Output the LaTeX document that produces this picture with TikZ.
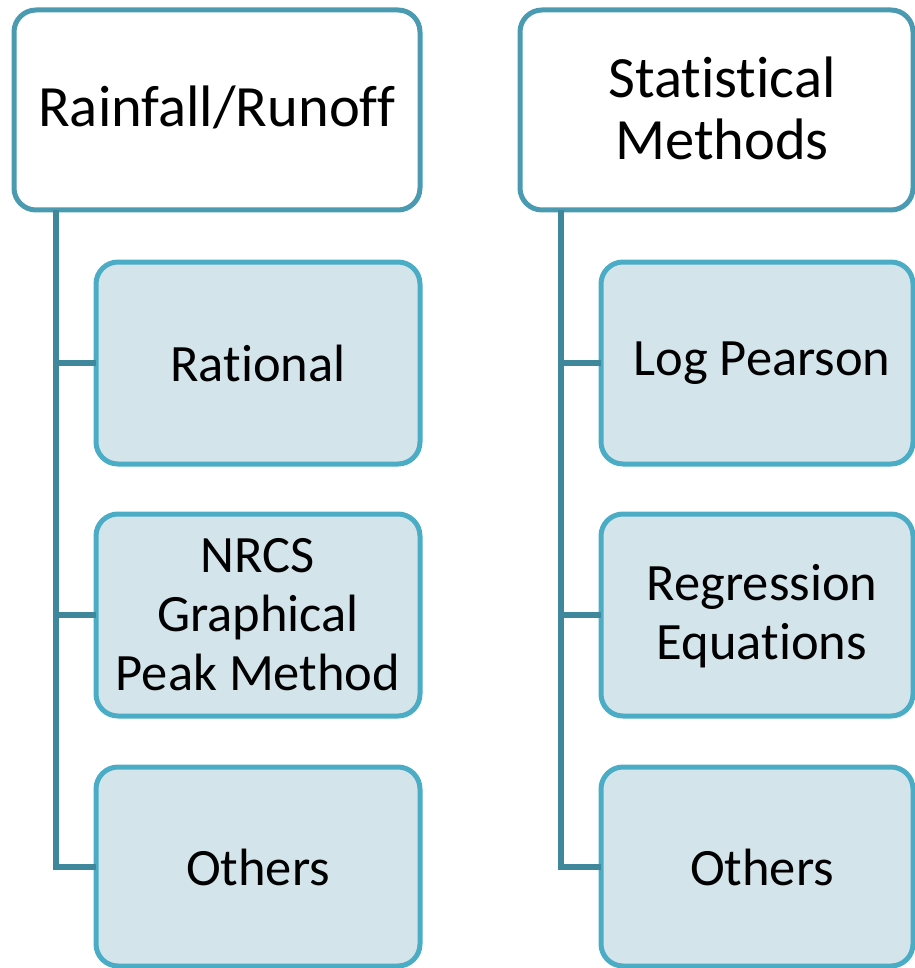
\documentclass[tikz,border=0pt]{standalone}
\usepackage{fontspec}
\setmainfont{Carlito}[Ligatures={NoCommon}]
\definecolor{headline}{HTML}{4A9BB1}
\definecolor{childline}{HTML}{4BACC6}
\definecolor{childfill}{HTML}{D3E4EB}
\definecolor{connline}{HTML}{3F889B}
\begin{document}
\begin{tikzpicture}[x=1pt,y=-1pt,
  headbox/.style={draw=headline,line width=5pt,fill=white,rounded corners=22pt},
  childbox/.style={draw=childline,line width=5pt,fill=childfill,rounded corners=22pt},
  conn/.style={draw=connline,line width=5.5pt},
  headtext/.style={align=center,font=\fontsize{58.5}{62}\selectfont},
  childtext/.style={align=center,font=\fontsize{52.5}{59}\selectfont}]
\useasboundingbox (0,0) rectangle (914,968);
\coordinate (lt) at (56,210);
\coordinate (l1) at (56,363);
\coordinate (l2) at (56,615);
\coordinate (l3) at (56,867);
\coordinate (rt) at (561,210);
\coordinate (r1) at (561,363);
\coordinate (r2) at (561,615);
\coordinate (r3) at (561,867);
\draw[headbox] (14,10) rectangle (420,210);
\node[headtext] (h1) at (217,107) {Rainfall/Runof\kern0pt f};
\draw[headbox] (520,10) rectangle (913,210);
\node[headtext] (h2) at (722,108) {Statistical\\Methods};
\draw[childbox] (96,262) rectangle (420,464);
\node[childtext] (a1) at (258,363) {Rational};
\draw[childbox] (96,514) rectangle (420,716);
\node[childtext] (a2) at (258,615) {NRCS\\Graphical\\Peak Method};
\draw[childbox] (96,767) rectangle (420,966);
\node[childtext] (a3) at (258,867) {Others};
\draw[childbox] (601,262) rectangle (913,464);
\node[childtext] (b1) at (762,363) {Log Pearson};
\draw[childbox] (601,514) rectangle (913,716);
\node[childtext] (b2) at (762,616) {Regression\\Equations};
\draw[childbox] (601,767) rectangle (913,966);
\node[childtext] (b3) at (762,867) {Others};
\coordinate (a1w) at (96,363);
\coordinate (a2w) at (96,615);
\coordinate (a3w) at (96,867);
\coordinate (b1w) at (601,363);
\coordinate (b2w) at (601,615);
\coordinate (b3w) at (601,867);
\draw[conn] (lt) -- (l3) -- (a3w);
\draw[conn] (l1) -- (a1w);
\draw[conn] (l2) -- (a2w);
\draw[conn] (rt) -- (r3) -- (b3w);
\draw[conn] (r1) -- (b1w);
\draw[conn] (r2) -- (b2w);
\end{tikzpicture}
\end{document}
